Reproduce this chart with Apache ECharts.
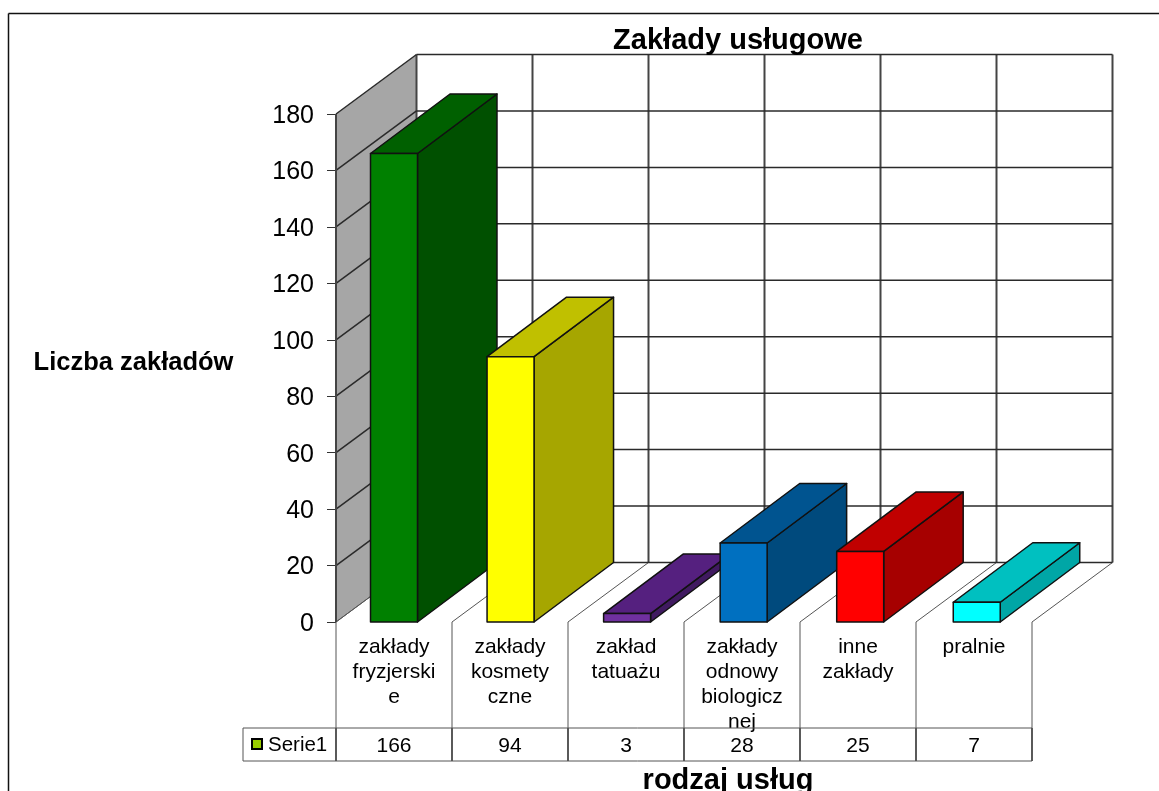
<!DOCTYPE html>
<html>
<head>
<meta charset="utf-8">
<style>
  html,body{margin:0;padding:0;background:#fff;}
  #chart{width:1159px;height:791px;}
</style>
<script src="https://cdn.jsdelivr.net/npm/echarts@6/dist/echarts.min.js"></script>
</head>
<body>
<div id="chart"></div>
<script>
var categories = ['zakłady fryzjerskie','zakłady kosmetyczne','zakład tatuażu','zakłady odnowy biologicznej','inne zakłady','pralnie'];
var wrappedLabels = ['zakłady\nfryzjerski\ne','zakłady\nkosmety\nczne','zakład\ntatuażu','zakłady\nodnowy\nbiologicz\nnej','inne\nzakłady','pralnie'];
var serie1 = [166,94,3,28,25,7];
var frontColors = ['#008000','#ffff00','#7030a0','#0070c0','#ff0000','#00ffff'];
var topColors = ['#006000','#c0c000','#55207f','#005490','#c00000','#00c0c0'];
var sideColors = ['#005000','#a6a600','#401a60','#004a7d','#a60000','#00a6a6'];
var yTicks = [0,20,40,60,80,100,120,140,160,180];

// przesuniecie glebi wykresu 3D
var depthX = 80.5;
var depthY = -59.5;
var barDepthX = 79.5;
var barShare = 0.405;
var barDrift = 0.55; // slupki ida troche szerzej niz kolumny tabeli
var FONT = '"Liberation Sans", Arial, sans-serif';
var gridLine = {stroke:'#2a2a2a',lineWidth:1.5};
var wallLine = {stroke:'#444',lineWidth:2};
var thinLine = {stroke:'#555',lineWidth:1};
var tableTop = 728, tableBottom = 761, tableLeft = 243;

function line(x1,y1,x2,y2,style){
  return {type:'line',shape:{x1:x1,y1:y1,x2:x2,y2:y2},style:style};
}
function poly(points,fill){
  return {type:'polygon',shape:{points:points},style:{fill:fill,stroke:'#111',lineWidth:1.5,lineJoin:'round'}};
}

// sciany, siatka i tabela danych
function renderWalls(params,api){
  var band = api.size([1,0])[0];
  var y0 = api.coord([0,0])[1];
  var yMax = api.coord([0,180])[1];
  var left = api.coord([0,0])[0]-band/2;
  var n = categories.length;
  var right = left+band*n;
  var kids = [];
  kids.push({type:'polygon',shape:{points:[[left,y0],[left+depthX,y0+depthY],[left+depthX,yMax+depthY],[left,yMax]]},style:{fill:'#a6a6a6'}});
  for(var i=0;i<=n;i++){
    var x = left+band*i;
    kids.push(line(x+depthX,yMax+depthY,x+depthX,y0+depthY,wallLine));
    kids.push(line(x,y0,x+depthX,y0+depthY,thinLine));
    kids.push(line(x,y0,x,tableTop,thinLine));
    kids.push(line(x,tableTop,x,tableBottom,{stroke:'#000',lineWidth:1.3}));
  }
  yTicks.forEach(function(v){
    var y = api.coord([0,v])[1];
    kids.push(line(left,y,left+depthX,y+depthY,v===0?thinLine:gridLine));
    kids.push(line(left+depthX,y+depthY,right+depthX,y+depthY,gridLine));
  });
  kids.push(line(left,yMax,left,y0,wallLine));
  kids.push(line(tableLeft,tableTop,right,tableTop,thinLine));
  kids.push(line(tableLeft,tableBottom,right,tableBottom,thinLine));
  kids.push(line(tableLeft,tableTop,tableLeft,tableBottom,thinLine));
  return {type:'group',children:kids};
}

function renderBar(params,api){
  var i = api.value(0);
  var band = api.size([1,0])[0];
  var w = band*barShare;
  var c = api.coord([i,api.value(1)]);
  var b = api.coord([i,0]);
  var mid = c[0]+barDrift*i;
  var x1 = mid-w/2, x2 = mid+w/2, yT = c[1], yB = b[1];
  return {type:'group',children:[
    poly([[x2,yB],[x2+barDepthX,yB+depthY],[x2+barDepthX,yT+depthY],[x2,yT]],sideColors[i]),
    poly([[x1,yT],[x1+barDepthX,yT+depthY],[x2+barDepthX,yT+depthY],[x2,yT]],topColors[i]),
    poly([[x1,yB],[x2,yB],[x2,yT],[x1,yT]],frontColors[i])
  ]};
}

var chart = echarts.init(document.getElementById('chart'),null,{renderer:'canvas'});
chart.setOption({
  animation:false,
  backgroundColor:'#fff',
  title:[
    {text:'Zakłady usługowe',left:738,top:26,padding:0,textAlign:'center',textStyle:{fontFamily:FONT,fontWeight:'bold',fontSize:29,color:'#000'}},
    {text:'rodzaj usług',left:728,top:766,padding:0,textAlign:'center',textStyle:{fontFamily:FONT,fontWeight:'bold',fontSize:29,color:'#000'}},
    {text:'Liczba zakładów',left:133.5,top:350,padding:0,textAlign:'center',textStyle:{fontFamily:FONT,fontWeight:'bold',fontSize:25.5,color:'#000'}}
  ],
  grid:{left:336,top:114,width:696,height:508,containLabel:false},
  xAxis:[
    {type:'category',data:wrappedLabels,position:'bottom',axisLine:{show:false},axisTick:{show:false},
     axisLabel:{interval:0,margin:13,fontFamily:FONT,fontSize:21,lineHeight:25,color:'#000',verticalAlign:'top'}},
    {type:'category',data:serie1.map(String),position:'bottom',offset:114,axisLine:{show:false},axisTick:{show:false},
     axisLabel:{interval:0,margin:0,fontFamily:FONT,fontSize:21,color:'#000'}}
  ],
  yAxis:{type:'value',min:0,max:180,interval:20,
    axisLine:{show:false},
    axisTick:{show:true,length:9,lineStyle:{color:'#333',width:1}},
    splitLine:{show:false},
    axisLabel:{margin:22,fontFamily:FONT,fontSize:25,color:'#000',verticalAlign:'top',lineHeight:4}},
  graphic:[
    {type:'line',shape:{x1:8.5,y1:13.5,x2:1159,y2:13.5},style:{stroke:'#111',lineWidth:1.5}},
    {type:'line',shape:{x1:8.5,y1:13.5,x2:8.5,y2:791},style:{stroke:'#111',lineWidth:1.5}},
    {type:'rect',shape:{x:252,y:739,width:10,height:10},style:{fill:'#99cc00',stroke:'#000',lineWidth:2}},
    {type:'text',left:268,top:735,style:{text:'Serie1',fontFamily:FONT,fontSize:20.5,fill:'#000'}}
  ],
  series:[
    {type:'custom',name:'walls',data:[[0,0]],renderItem:renderWalls,silent:true,z:1},
    {type:'custom',name:'Serie1',data:serie1.map(function(v,i){return [i,v];}),renderItem:renderBar,z:2}
  ]
});
</script>
</body>
</html>
